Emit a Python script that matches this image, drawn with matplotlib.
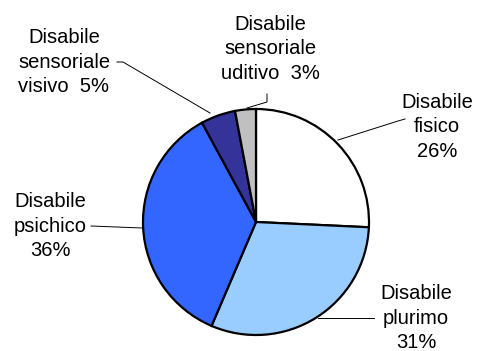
import matplotlib
matplotlib.use("Agg")
import matplotlib.pyplot as plt

categories = ["Disabile fisico", "Disabile plurimo", "Disabile psichico",
              "Disabile sensoriale visivo", "Disabile sensoriale uditivo"]
values = [26, 31, 36, 5, 3]
label_texts = ["Disabile\nfisico\n26%", "Disabile\nplurimo\n31%", "Disabile\npsichico\n36%",
               "Disabile\nsensoriale\nvisivo  5%", "Disabile\nsensoriale\nuditivo  3%"]
colors = ["#FFFFFF", "#99CCFF", "#3366FF", "#333399", "#C0C0C0"]

W, H = 487, 351
fig = plt.figure(figsize=(W / 100, H / 100), dpi=100)
ax = fig.add_axes([0, 0, 1, 1])
ax.set_xlim(0, W)
ax.set_ylim(0, H)
ax.set_aspect("equal")
ax.axis("off")

cx, cy, r = 256, H - 222, 113
ax.pie(values, colors=colors, startangle=90, counterclock=False,
       center=(cx, cy), radius=r, normalize=True,
       wedgeprops=dict(edgecolor="black", linewidth=1.6))
ax.set_xlim(0, W)
ax.set_ylim(0, H)

font = dict(family=["Liberation Sans", "DejaVu Sans"], fontsize=14.5,
            ha="center", va="center", linespacing=1.38, color="black")
label_pos = [(437, 127), (416, 318), (50, 226), (64, 62), (270, 49)]
for txt, (x, y) in zip(label_texts, label_pos):
    ax.text(x, H - y, txt, **font)

leaders = [
    [(338, 140), (398, 121), (405, 119)],
    [(318, 318), (374, 318)],
    [(142, 228), (91, 226)],
    [(210, 113), (123, 62), (117, 62)],
    [(247, 108), (267, 102), (267, 94)],
]
for pts in leaders:
    xs = [p[0] for p in pts]
    ys = [H - p[1] for p in pts]
    ax.plot(xs, ys, color="black", linewidth=0.7)

fig.savefig("out.png", dpi=100)
